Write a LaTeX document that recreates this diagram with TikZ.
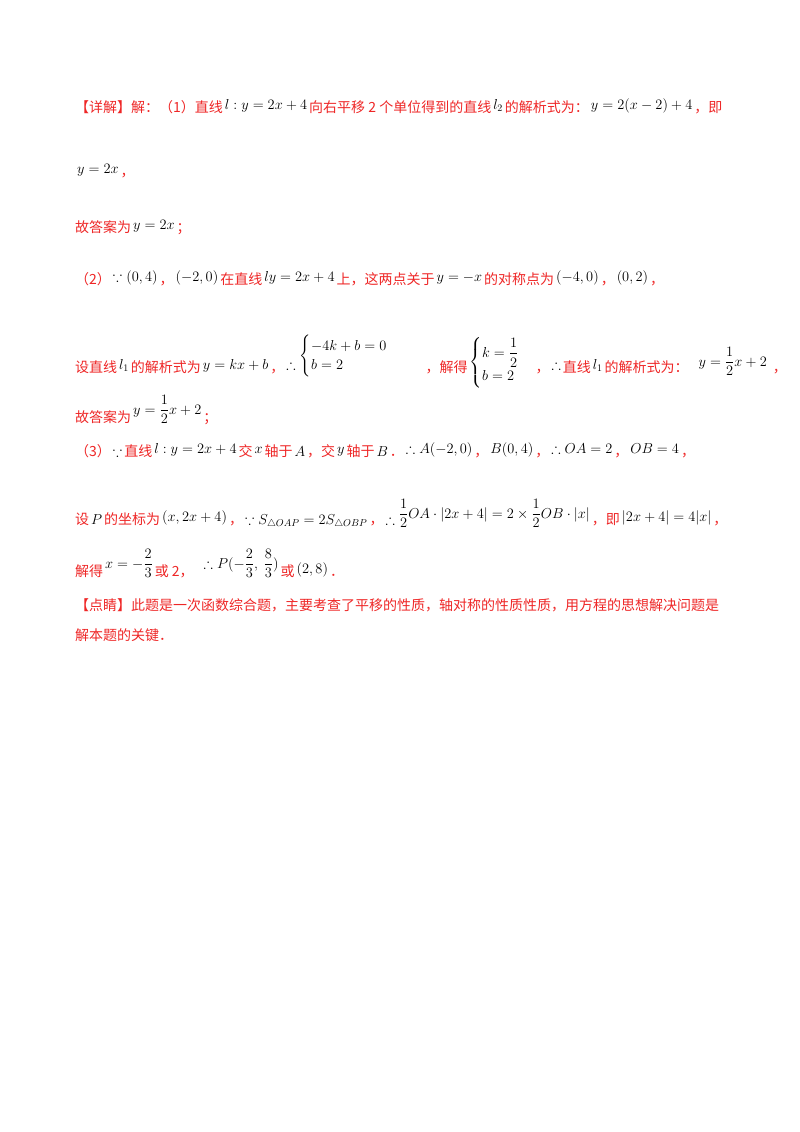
\documentclass[tikz,border=0pt]{standalone}
\usepackage{amsmath,amssymb}
\usepackage{fontspec}
\setmainfont{Liberation Serif}
\newfontfamily\cjk{Noto Sans CJK SC}
\definecolor{rd}{RGB}{238,38,38}
\newcommand{\mm}[2][3pt]{\hspace{2pt}\raisebox{#1}{\color{black}$#2$}\hspace{2pt}}
\tikzset{ln/.style={anchor=base west,inner sep=0pt,text=rd,font=\cjk\fontsize{14pt}{16pt}\selectfont}}
\begin{document}
\begin{tikzpicture}[x=1pt,y=-1pt]
\useasboundingbox (0,0) rectangle (800,1132);
\node[ln] (l1) at (75,112) {【详解】解：（1）直线\mm{l:y=2x+4}向右平移 2 个单位得到的直线\mm{l_2}的解析式为：\mm{y=2(x-2)+4}，即};
\node[ln] (l2) at (75,176) {\mm{y=2x}，};
\node[ln] (l3) at (75,232) {故答案为\mm{y=2x}；};
\node[ln] (l4) at (75,284) {（2）\mm{\because(0,4)}，\mm{(-2,0)}在直线\mm{ly=2x+4}上，这两点关于\mm{y=-x}的对称点为\mm{(-4,0)}，\mm{(0,2)}，};
\node[ln] (l5) at (75,372) {设直线\mm{l_1}的解析式为\mm{y=kx+b}，\mm{\therefore}\mm[12pt]{\begin{cases}-4k+b=0\\ b=2\end{cases}}\hspace{22pt}，解得\mm[6pt]{\begin{cases}k=\dfrac12\\[2pt] b=2\end{cases}}，\mm{\therefore}直线\mm{l_1}的解析式为：\hspace{8pt}\mm[6pt]{y=\dfrac12x+2}\hspace{4pt}，};
\node[ln] (l6) at (75,422) {故答案为\mm[8pt]{y=\dfrac12x+2}；};
\node[ln] (l7) at (75,456) {（3）\mm[0pt]{\because}直线\mm{l:y=2x+4}交\mm{x}轴于\mm[0pt]{A}，交\mm{y}轴于\mm[0pt]{B}．\mm{\therefore A(-2,0)}，\mm{B(0,4)}，\mm{\therefore OA=2}，\mm{OB=4}，};
\node[ln] (l8) at (75,524) {设\mm[0pt]{P}的坐标为\mm{(x,2x+4)}，\mm[0pt]{\because S_{\triangle OAP}=2S_{\triangle OBP}}，\mm[0pt]{\therefore}\mm[6pt]{\dfrac12OA\cdot|2x+4|=2\times\dfrac12OB\cdot|x|}，即\mm{|2x+4|=4|x|}，};
\node[ln] (l9) at (75,576) {解得\mm[8pt]{x=-\dfrac23}或 2，\hspace{8pt}\mm[8pt]{\therefore P(-\dfrac23,\ \dfrac83)}或\mm{(2,8)}．};
\node[ln] (l10) at (75,610) {【点睛】此题是一次函数综合题，主要考查了平移的性质，轴对称的性质性质，用方程的思想解决问题是};
\node[ln] (l11) at (75,640) {解本题的关键．};
\end{tikzpicture}
\end{document}
